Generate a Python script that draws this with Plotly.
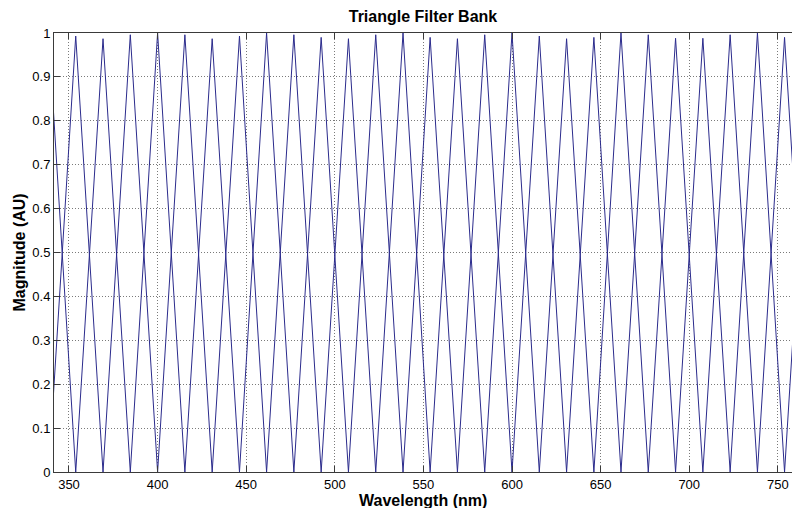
import plotly.graph_objects as go

# Filter centre wavelengths (nm), including the edge knots beyond the visible range
centers = [323.1, 338.5, 353.8, 369.2, 384.6, 400.0, 415.4, 430.8, 446.2, 461.5,
           476.9, 492.3, 507.7, 523.1, 538.5, 553.8, 569.2, 584.6, 600.0, 615.4,
           630.8, 646.2, 661.5, 676.9, 692.3, 707.7, 723.1, 738.5, 753.8, 769.2, 784.6]
# Peak magnitudes for the filters centred at centers[1] .. centers[-2]
peaks = [1.0, 0.993, 0.987, 0.996, 1.0, 0.996, 0.987, 0.993, 1.0, 0.996,
         0.99, 0.987, 0.996, 1.0, 0.99, 0.987, 0.996, 1.0, 0.993, 0.987,
         0.99, 1.0, 0.996, 0.988, 0.988, 0.996, 1.0, 0.99, 1.0]

x_ticks = [350, 400, 450, 500, 550, 600, 650, 700, 750]
y_ticks = [0, 0.1, 0.2, 0.3, 0.4, 0.5, 0.6, 0.7, 0.8, 0.9, 1]
y_tick_labels = ["0", "0.1", "0.2", "0.3", "0.4", "0.5", "0.6", "0.7", "0.8", "0.9", "1"]

FONT = "Liberation Sans, Arial, sans-serif"
LINE = "#2b2b8c"

fig = go.Figure()
for i in range(1, len(centers) - 1):
    fig.add_trace(go.Scatter(
        x=[centers[i - 1], centers[i], centers[i + 1]],
        y=[0, peaks[i - 1], 0],
        mode="lines",
        line=dict(color=LINE, width=1),
        showlegend=False,
        hoverinfo="skip",
    ))

axis_common = dict(
    showline=True, linecolor="#3a3a3a", linewidth=1,
    ticks="inside", ticklen=6, tickcolor="#3a3a3a", tickwidth=1,
    showgrid=True, gridcolor="#7a7a7a", gridwidth=1, griddash="1px,2px",
    zeroline=False,
    tickfont=dict(family=FONT, size=13, color="black"),
)

fig.update_xaxes(range=[341.54, 758.0], tickmode="array", tickvals=x_ticks,
                 mirror="ticks", **axis_common)
fig.update_yaxes(range=[0, 1], tickmode="array", tickvals=y_ticks,
                 ticktext=y_tick_labels, mirror=False, **axis_common)

fig.update_layout(
    width=792, height=508,
    margin=dict(l=54, r=0, t=33, b=36),
    plot_bgcolor="white", paper_bgcolor="white",
    title=dict(text="<b>Triangle Filter Bank</b>", x=0.5, xref="paper",
               y=1 - 16 / 508, yref="container", yanchor="middle", xanchor="center",
               font=dict(family=FONT, size=16, color="black")),
    annotations=[
        dict(text="<b>Wavelength (nm)</b>", x=0.5, xref="paper", y=0, yref="paper",
             xanchor="center", yanchor="middle", yshift=-28, showarrow=False,
             font=dict(family=FONT, size=16, color="black")),
        dict(text="<b>Magnitude (AU)</b>", x=0, xref="paper", y=0.5, yref="paper",
             xanchor="center", yanchor="middle", xshift=-35, textangle=-90,
             showarrow=False, font=dict(family=FONT, size=16, color="black")),
    ],
)

fig.write_html("out.html")
